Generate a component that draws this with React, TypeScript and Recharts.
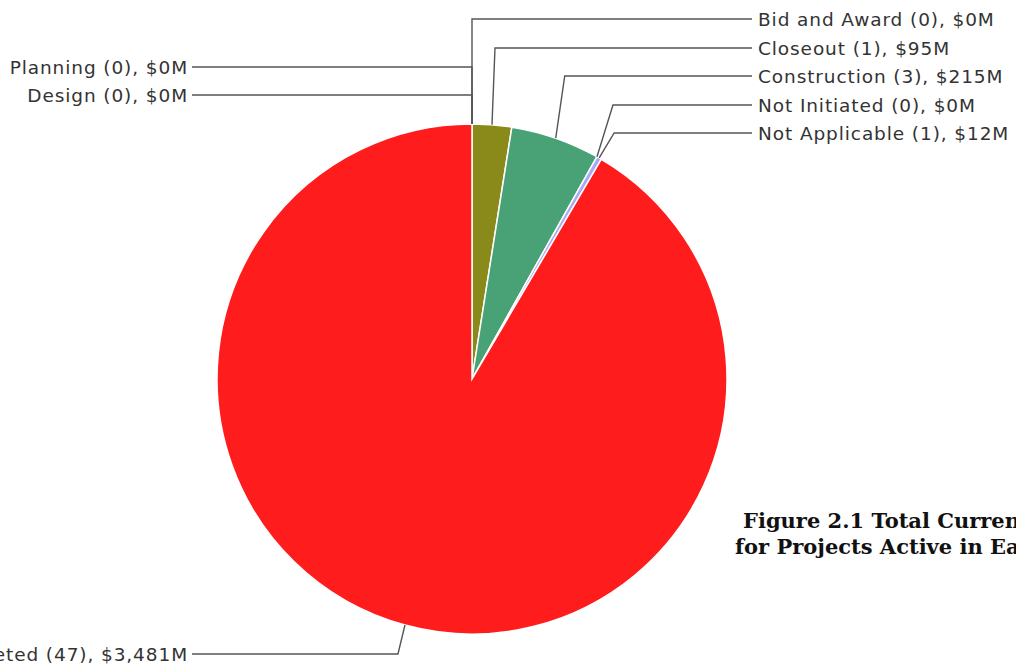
import React from "react";
import { PieChart, Pie, Cell } from "recharts";

// ─── Data ─────────────────────────────────────────────────────────────────────

const PHASES = [
  "Planning",
  "Design",
  "Bid and Award",
  "Closeout",
  "Construction",
  "Not Initiated",
  "Not Applicable",
  "Completed",
];
const COUNTS = [0, 0, 0, 1, 3, 0, 1, 47];
const COSTS = [0, 0, 0, 95, 215, 0, 12, 3481]; // $M

const COLORS = [
  "#1f77b4",
  "#ff7f0e",
  "#9467bd",
  "#8a8a1a",
  "#48a276",
  "#e377c2",
  "#a9aaf5",
  "#ff1c1c",
];

// label layout: which side, the label row, and how far the elbow leans
const SIDE = ["L", "L", "R", "R", "R", "R", "R", "L"];
const LABEL_Y = [67, 95, 19, 48, 76, 105, 133, 654];
const ELBOW_DX = [0, 0, 0, 3, 9, 16, 15, -7];

const data = PHASES.map((name, i) => ({
  name,
  count: COUNTS[i],
  value: COSTS[i],
}));

const RAD = Math.PI / 180;

function LeaderLabel(props: any) {
  const { cx, cy, midAngle, outerRadius, index } = props;
  const ax = cx + outerRadius * Math.cos(-midAngle * RAD);
  const ay = cy + outerRadius * Math.sin(-midAngle * RAD);
  const ly = LABEL_Y[index];
  const ex = ax + ELBOW_DX[index];
  const right = SIDE[index] === "R";
  const endX = right ? 752 : 192;
  const d = data[index];
  const text = `${d.name} (${d.count}), $${d.value.toLocaleString("en-US")}M`;
  return (
    <g>
      <polyline
        points={`${ax},${ay} ${ex},${ly} ${endX},${ly}`}
        fill="none"
        stroke="#555"
        strokeWidth={1.4}
      />
      <text
        x={right ? 758 : 188}
        y={ly}
        dy="0.36em"
        textAnchor={right ? "start" : "end"}
        fontFamily="'DejaVu Sans', sans-serif"
        fontSize={18.5}
        letterSpacing={0.9}
        fill="#333"
      >
        {text}
      </text>
    </g>
  );
}

export default function App() {
  return (
    <div
      style={{
        position: "absolute",
        left: 0,
        top: 0,
        width: 1016,
        height: 668,
        overflow: "hidden",
        background: "#fff",
      }}
    >
      <PieChart width={1016} height={668} margin={{ top: 0, right: 0, bottom: 0, left: 0 }}>
        <Pie
          data={data}
          dataKey="value"
          nameKey="name"
          cx={472}
          cy={379}
          outerRadius={255}
          startAngle={90}
          endAngle={-270}
          stroke="#fff"
          strokeWidth={1.5}
          label={LeaderLabel}
          labelLine={false}
          isAnimationActive={false}
        >
          {data.map((_, i) => (
            <Cell key={i} fill={COLORS[i]} />
          ))}
        </Pie>
        <text
          x={743}
          y={528}
          fontFamily="'DejaVu Serif', serif"
          fontWeight="bold"
          fontSize={21}
          fill="#111"
        >
          Figure 2.1 Total Current Cost
        </text>
        <text
          x={735}
          y={554}
          fontFamily="'DejaVu Serif', serif"
          fontWeight="bold"
          fontSize={21}
          fill="#111"
        >
          for Projects Active in Each Phase
        </text>
      </PieChart>
    </div>
  );
}
